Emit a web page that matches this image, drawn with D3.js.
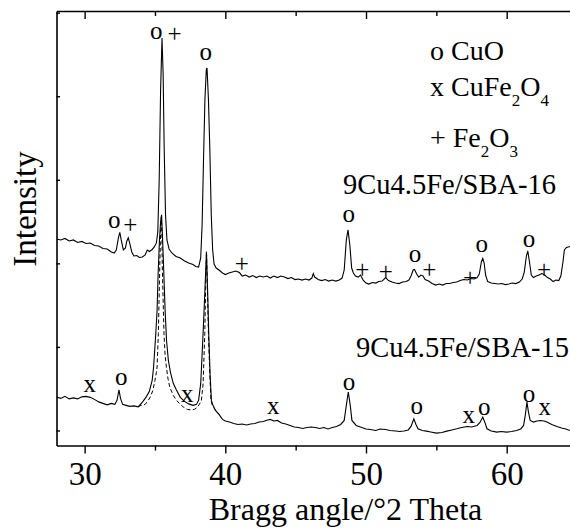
<!DOCTYPE html>
<html><head><meta charset="utf-8">
<script src="https://cdn.jsdelivr.net/npm/d3@7"></script>
<style>
body{margin:0;background:#fff}
svg{display:block}
text{font-family:"Liberation Serif","Times New Roman",serif;fill:#000}
</style>
</head><body>
<svg id="chart" width="570" height="528"></svg>
<script>
// ---- data (Bragg angle in degrees 2θ, intensity in arbitrary units) ----
const xMajorTicks = [30, 40, 50, 60];
const xMinorTicks = [35, 45, 55];
const yTicks = [0, 1000, 2000, 3000, 4000, 5000];

const sba16 = [
[28.0,2292],[28.3,2280],[28.6,2298],[28.9,2268],[29.2,2280],[29.5,2250],[29.8,2262],[30.1,2238],[30.4,2244],[30.7,2214],
[31.0,2208],[31.3,2178],[31.6,2172],[31.9,2136],[32.1,2124],[32.25,2160],[32.4,2304],[32.5,2370],[32.6,2280],[32.75,2160],
[32.9,2184],[33.0,2268],[33.1,2304],[33.2,2244],[33.35,2136],[33.5,2088],[33.7,2094],[33.9,2070],[34.1,2076],[34.3,2100],
[34.45,2160],[34.6,2142],[34.8,2166],[34.95,2196],[35.1,2244],[35.2,2376],[35.3,3000],[35.4,4080],[35.5,4698],[35.58,4260],
[35.65,3420],[35.75,2580],[35.85,2280],[36.0,2172],[36.2,2124],[36.5,2082],[36.8,2064],[37.1,2028],[37.4,2004],[37.7,1986],
[37.9,1962],[38.1,1956],[38.25,2064],[38.35,2460],[38.45,3240],[38.55,3960],[38.65,4320],[38.7,4338],[38.8,3960],[38.9,3360],
[39.0,2580],[39.1,2160],[39.2,1992],[39.35,1944],[39.55,1920],[39.8,1884],[40.0,1866],[40.25,1884],[40.5,1896],[40.75,1908],
[41.0,1890],[41.2,1848],[41.45,1860],[41.7,1836],[41.95,1854],[42.2,1830],[42.45,1848],[42.7,1836],[42.95,1848],[43.2,1824],
[43.45,1848],[43.7,1830],[43.95,1848],[44.2,1836],[44.45,1818],[44.7,1830],[44.95,1806],[45.2,1812],[45.45,1800],[45.7,1812],
[45.95,1800],[46.15,1824],[46.25,1878],[46.35,1836],[46.6,1806],[46.85,1794],[47.1,1806],[47.35,1788],[47.6,1800],[47.85,1788],
[48.1,1800],[48.3,1824],[48.45,1920],[48.6,2280],[48.72,2400],[48.85,2220],[48.98,1944],[49.1,1884],[49.25,1848],[49.45,1836],
[49.6,1860],[49.8,1800],[50.0,1764],[50.2,1752],[50.45,1770],[50.7,1764],[50.9,1782],[51.15,1788],[51.4,1830],[51.6,1794],
[51.85,1776],[52.1,1764],[52.35,1758],[52.6,1776],[52.85,1782],[53.05,1800],[53.2,1848],[53.35,1920],[53.45,1926],[53.6,1872],
[53.75,1836],[53.9,1860],[54.05,1848],[54.2,1806],[54.45,1788],[54.7,1758],[54.95,1740],[55.2,1752],[55.45,1740],[55.7,1758],
[55.95,1758],[56.2,1770],[56.45,1776],[56.7,1794],[56.95,1806],[57.2,1800],[57.45,1818],[57.7,1812],[57.9,1830],[58.05,1872],
[58.2,2016],[58.3,2058],[58.4,2004],[58.5,1860],[58.65,1782],[58.9,1764],[59.15,1758],[59.4,1752],[59.65,1758],[59.9,1746],
[60.15,1752],[60.4,1764],[60.65,1758],[60.9,1776],[61.1,1812],[61.25,1896],[61.4,2088],[61.5,2148],[61.62,2016],[61.75,1860],
[61.9,1830],[62.1,1848],[62.3,1860],[62.5,1878],[62.7,1860],[62.9,1830],[63.1,1812],[63.3,1782],[63.5,1800],[63.7,1794],
[63.85,1848],[64.0,2016],[64.1,2160],[64.25,2190],[64.5,2202]
];

const sba15 = [
[28.0,400],[28.3,384],[28.6,408],[28.9,378],[29.2,390],[29.5,378],[29.8,402],[30.1,408],[30.4,396],[30.7,372],
[31.0,342],[31.3,324],[31.6,306],[31.9,324],[32.15,312],[32.3,360],[32.44,486],[32.55,384],[32.7,312],[32.95,300],
[33.2,288],[33.5,294],[33.8,282],[34.15,348],[34.4,408],[34.6,468],[34.8,600],[34.9,756],[35.05,1140],[35.15,1440],
[35.22,1860],[35.32,2280],[35.4,2496],[35.47,2580],[35.53,2340],[35.6,2016],[35.72,1440],[35.82,1080],[35.95,840],[36.1,696],
[36.3,564],[36.5,492],[36.8,396],[37.1,348],[37.4,318],[37.7,300],[37.95,312],[38.1,360],[38.25,560],[38.42,1160],
[38.55,1680],[38.66,2140],[38.74,1680],[38.82,1160],[38.92,660],[39.01,360],[39.1,312],[39.3,240],[39.55,192],[39.8,132],
[40.0,114],[40.3,102],[40.6,84],[40.9,72],[41.2,78],[41.5,66],[41.8,78],[42.1,84],[42.4,102],[42.7,108],
[43.0,126],[43.2,132],[43.45,114],[43.7,120],[44.0,90],[44.3,78],[44.6,60],[44.9,42],[45.2,36],[45.5,24],
[45.8,36],[46.1,42],[46.4,36],[46.7,24],[47.0,36],[47.3,18],[47.6,36],[47.9,48],[48.2,72],[48.45,120],
[48.6,300],[48.74,460],[48.88,300],[49.0,120],[49.3,60],[49.6,42],[50.0,18],[50.3,12],[50.7,0],[51.0,18],
[51.4,12],[51.7,0],[52.1,-6],[52.4,-12],[52.7,-6],[53.0,6],[53.2,48],[53.4,140],[53.55,72],[53.7,20],
[54.0,0],[54.3,-8],[54.6,-18],[55.0,-32],[55.4,-24],[55.74,-8],[56.1,6],[56.45,20],[56.8,36],[57.2,48],
[57.5,42],[57.9,60],[58.1,96],[58.3,160],[58.45,96],[58.6,20],[58.9,-6],[59.3,-20],[59.6,-12],[60.0,-20],
[60.35,-12],[60.7,0],[61.0,18],[61.2,60],[61.32,180],[61.44,340],[61.55,216],[61.67,120],[61.9,100],[62.15,114],
[62.4,120],[62.65,114],[62.86,100],[63.2,72],[63.57,48],[63.9,30],[64.2,18],[64.5,0]
];

const sba15Dashed = [
[33.8,282],[34.0,300],[34.3,312],[34.5,354],[34.67,400],[34.85,480],[35.0,600],[35.1,696],[35.15,760],[35.24,1160],
[35.34,1960],[35.4,2376],[35.45,2556],[35.49,2340],[35.52,1960],[35.64,1160],[35.72,900],[35.81,760],[35.92,624],[36.05,520],
[36.3,420],[36.53,360],[36.8,312],[37.05,276],[37.3,252],[37.55,246],[37.8,252],[38.0,276],[38.15,312],[38.3,360],
[38.42,560],[38.54,1160],[38.6,1680],[38.66,2140],[38.73,1680],[38.8,1160],[38.9,660],[38.98,360],[39.08,300],[39.3,240],
[39.55,192]
];

// phase markers: [symbol, angle, intensity]
const marksSba16 = [
["o",35.09,4688],["+",36.4,4648],["o",38.61,4428],["o",32.1,2420],["+",33.24,2360],
["+",41.17,1900],["o",48.77,2492],["+",49.74,1824],["+",51.4,1800],["o",53.49,2020],
["+",54.5,1820],["+",57.4,1728],["o",58.23,2140],["o",61.58,2200],["+",62.66,1824]
];
const marksSba15 = [
["x",30.36,460],["o",32.6,540],["x",37.3,340],["x",43.4,200],["o",48.79,480],
["o",53.6,200],["x",57.3,88],["o",58.4,180],["o",61.58,340],["x",62.7,180]
];

const sampleNames = ["9Cu4.5Fe/SBA-16", "9Cu4.5Fe/SBA-15"];
// legend: segments [text, isSubscript]
const legendEntries = [
  [["o CuO",0]],
  [["x CuFe",0],["2",1],["O",0],["4",1]],
  [["+ Fe",0],["2",1],["O",0],["3",1]]
];
const xTitle = "Bragg angle/°2 Theta";
const yTitle = "Intensity";

// ---- drawing ----
const svg = d3.select("#chart");
const PL = 56.5, PR = 570, PT = 11, PB = 445.5;
const x = d3.scaleLinear().domain([28, 64.5]).range([PL, PR]);
const y = d3.scaleLinear().domain([-180, 5020]).range([PB, PT]);

svg.append("defs").append("clipPath").attr("id","plot")
  .append("rect").attr("x",PL).attr("y",PT).attr("width",PR-PL).attr("height",PB-PT);

const line = d3.line().x(d => x(d[0])).y(d => y(d[1]));
const g = svg.append("g").attr("clip-path","url(#plot)");
g.append("path").datum(sba15Dashed).attr("d",line).attr("fill","none")
  .attr("stroke","#000").attr("stroke-width",1).attr("stroke-dasharray","4,2.5");
g.append("path").datum(sba15).attr("d",line).attr("fill","none")
  .attr("stroke","#000").attr("stroke-width",1.1);
g.append("path").datum(sba16).attr("d",line).attr("fill","none")
  .attr("stroke","#000").attr("stroke-width",1.1);

function styleAxis(sel){
  sel.selectAll("path.domain").attr("stroke","#000").attr("stroke-width",1.6);
  sel.selectAll(".tick line").attr("stroke","#000").attr("stroke-width",1.4);
}
// bottom axis
const axBottom = svg.append("g").attr("transform",`translate(0,${PB})`)
  .call(d3.axisBottom(x).tickValues(xMajorTicks).tickSize(8).tickSizeOuter(0).tickFormat(d3.format("d")));
axBottom.selectAll(".tick text").attr("dy",null).attr("y",39.5)
  .style("font-family",'"Liberation Serif",serif').style("font-size","33px").attr("fill","#000");
styleAxis(axBottom);
svg.append("g").attr("transform",`translate(0,${PB})`)
  .call(d3.axisBottom(x).tickValues(xMinorTicks).tickSize(5).tickSizeOuter(0).tickFormat(""))
  .call(s => s.select("path.domain").remove()).call(styleAxis);
// top axis (ticks inward)
const axTop = svg.append("g").attr("transform",`translate(0,${PT})`)
  .call(d3.axisTop(x).tickValues(xMajorTicks).tickSize(-8).tickSizeOuter(0).tickFormat(""));
styleAxis(axTop);
svg.append("g").attr("transform",`translate(0,${PT})`)
  .call(d3.axisTop(x).tickValues(xMinorTicks).tickSize(-5).tickSizeOuter(0).tickFormat(""))
  .call(s => s.select("path.domain").remove()).call(styleAxis);
// left axis (ticks inward, no labels)
const axLeft = svg.append("g").attr("transform",`translate(${PL},0)`)
  .call(d3.axisLeft(y).tickValues(yTicks).tickSize(-3.5).tickSizeOuter(0).tickFormat(""));
styleAxis(axLeft);
svg.selectAll(".tick text").filter(function(){return this.textContent==="";}).remove();

// axis titles
svg.append("text").attr("x",345.5).attr("y",520).attr("text-anchor","middle")
  .style("font-size","32px").text(xTitle);
svg.append("text").attr("transform","translate(35.5,209) rotate(-90)").attr("text-anchor","middle")
  .style("font-size","33px").text(yTitle);

// phase markers
function drawMarks(data){
  svg.append("g").selectAll("text").data(data).join("text")
    .attr("x",d => x(d[1])).attr("y",d => y(d[2]))
    .attr("text-anchor","middle").style("font-size","25px").text(d => d[0]);
}
drawMarks(marksSba16);
drawMarks(marksSba15);

// sample labels
svg.append("text").attr("x",343).attr("y",194).style("font-size","28.5px").text(sampleNames[0]);
svg.append("text").attr("x",356).attr("y",356.7).style("font-size","28.5px").text(sampleNames[1]);

// legend
const legendBase = [60, 96, 147];
legendEntries.forEach((parts, i) => {
  const t = svg.append("text").attr("x",430).attr("y",legendBase[i]).style("font-size","28px");
  let sub = false;
  parts.forEach(([txt, isSub]) => {
    const ts = t.append("tspan").text(txt);
    if (isSub && !sub) ts.attr("dy",10).style("font-size","17px");
    else if (isSub) ts.style("font-size","17px");
    else if (!isSub && sub) ts.attr("dy",-10);
    sub = !!isSub;
  });
});
</script>
</body></html>
